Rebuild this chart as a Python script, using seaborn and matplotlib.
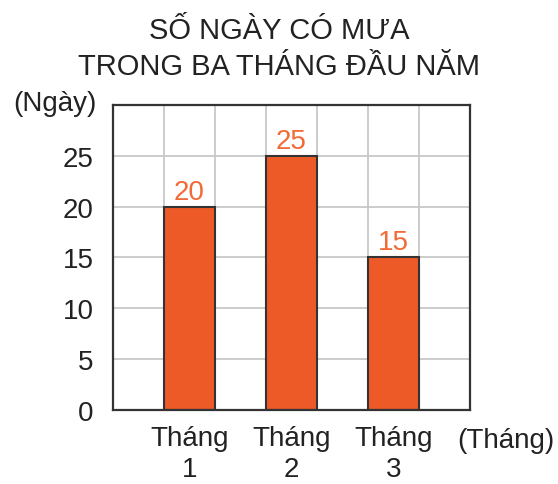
import matplotlib
matplotlib.use("Agg")
import matplotlib.pyplot as plt
import matplotlib.transforms as mtransforms
import numpy as np
import pandas as pd
import seaborn as sns

# data
months = ["Tháng\n1", "Tháng\n2", "Tháng\n3"]
rainy_days = [20, 25, 15]
y_ticks = [0, 5, 10, 15, 20, 25]

title = "SỐ NGÀY CÓ MƯA\nTRONG BA THÁNG ĐẦU NĂM"

sns.set_style("white")
plt.rcParams["font.family"] = ["Liberation Sans", "DejaVu Sans"]

df = pd.DataFrame({"month": months, "days": rainy_days})

fig = plt.figure(figsize=(5.58, 4.85), dpi=100)
ax = fig.add_axes([0.2025, 0.1526, 0.6398, 0.6289])

sns.barplot(data=df, x="month", y="days", color="#EE5A27", width=0.5,
            edgecolor="#333333", linewidth=1.5, saturation=1, ax=ax)

ax.set_xlim(-0.75, 2.75)
ax.set_ylim(0, 30)
ax.set_yticks(y_ticks)
ax.set_xticks(np.arange(-0.25, 2.5, 0.5), minor=True)
ax.set_axisbelow(True)
ax.grid(axis="y", which="major", color="#c8c8c8", linewidth=1.3)
ax.grid(axis="x", which="minor", color="#c8c8c8", linewidth=1.3)
ax.tick_params(which="both", length=0)
ax.tick_params(axis="y", labelsize=20, pad=14, colors="#222222")
ax.tick_params(axis="x", labelsize=20, pad=11, colors="#222222")
for lbl in ax.get_xticklabels():
    lbl.set_linespacing(1.22)
ax.set_xlabel("")
ax.set_ylabel("")

for s in ax.spines.values():
    s.set_visible(True)
    s.set_color("#333333")
    s.set_linewidth(1.6)

for c in ax.containers:
    ax.bar_label(c, padding=1.5, fontsize=20, color="#F26A35")

trans = mtransforms.blended_transform_factory(ax.transData, fig.transFigure)
ax.text(3.1, 1 - 441 / 485, "(Tháng)", transform=trans, fontsize=20,
        color="#222222", ha="center", va="center")
fig.text(55 / 558, 1 - 104 / 485, "(Ngày)", fontsize=20, color="#222222",
         ha="center", va="center")
fig.text(0.5, 1 - 49 / 485, title, fontsize=21, color="#222222",
         ha="center", va="center", linespacing=1.35)

fig.savefig("out.png", dpi=100)
